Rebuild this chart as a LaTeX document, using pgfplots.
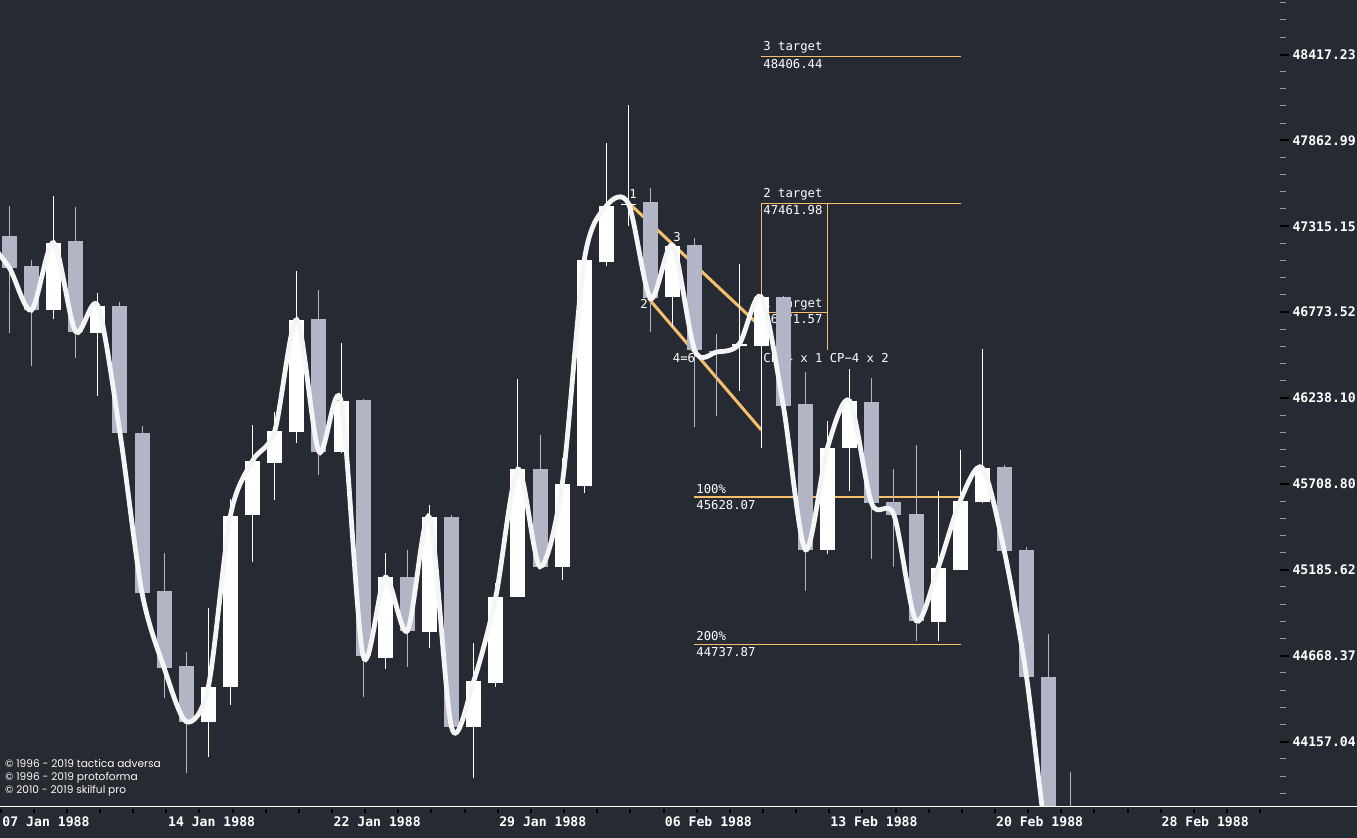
\documentclass[border=0pt]{standalone}
\usepackage{pgfplots}
\pgfplotsset{compat=1.18}
\usepackage{pgfplotstable}
\usepackage{fontspec}
\newfontfamily\monof{DejaVu Sans Mono}
\newfontfamily\copyf{Poppins}
\definecolor{bgc}{RGB}{38,42,51}
\definecolor{downc}{RGB}{178,181,198}
\definecolor{linec}{RGB}{245,245,245}
\definecolor{orc}{RGB}{247,190,108}
\definecolor{minc}{RGB}{150,154,164}
\newcommand\axfont{\monof\bfseries\fontsize{6.57}{8}\selectfont}
\newcommand\annfont{\monof\fontsize{6.13}{7.5}\selectfont}

% x = horizontal position of the candle, o h l c = open high low close
\pgfplotstableread{
x o h l c
-12.8 47150 47300 47100 47229
9.3 47254 47445 46646 47054
31.4 47065 47103 46434 46787
53.5 46787 47508 46733 47212
75.6 47222 47438 46490 46652
97.8 46646 46895 46253 46813
119.9 46813 46836 46017 46025
142.0 46025 46066 45040 45048
164.1 45059 45287 44416 44598
186.2 44608 44689 43972 44276
208.3 44276 44956 44064 44483
230.4 44479 45616 44372 45514
252.6 45516 46072 45236 45851
274.7 45840 46151 45607 46035
296.8 46031 47033 45960 46725
318.9 46729 46914 45766 45908
341.0 45908 46580 45898 46220
363.1 46226 46232 44425 44669
385.2 44657 45290 44590 45139
407.4 45143 45307 44604 44818
429.5 44813 45581 44717 45504
451.6 45504 45520 44233 44241
473.7 44241 44747 43942 44518
495.8 44508 45107 44481 45024
517.9 45024 46357 45022 45799
540.0 45799 46011 45200 45205
562.2 45199 45867 45121 45709
584.3 45698 47120 45652 47103
606.4 47086 47848 47067 47445
628.5 47452 48091 47319 47458
650.6 47470 47559 46652 46861
672.7 46871 47203 46683 47193
694.8 47197 47241 46056 46534
716.9 46531 46638 46130 46525
739.1 46561 47077 46278 46573
761.2 46565 46895 45932 46869
783.3 46869 46875 46189 46191
805.4 46202 46399 45060 45307
827.5 45307 46097 45283 45931
849.6 45932 46419 45668 46220
871.7 46214 46363 45254 45589
893.9 45599 45801 45205 45520
916.0 45526 45949 44759 44880
938.1 44874 45666 44759 45197
960.2 45187 45918 45185 45605
982.3 45601 46544 45595 45807
1004.4 45814 45824 45295 45297
1026.5 45307 45325 44542 44544
1048.7 44542 44800 43400 43521
1070.8 43700 43979 43300 43450
}\candles

\begin{document}
\begin{tikzpicture}
\fill[bgc] (0,-15.75pt) rectangle (678.5pt,403.25pt);
\begin{axis}[
  at={(0,0)}, anchor=south west,
  scale only axis, width=640pt, height=403.25pt,
  xmin=0, xmax=1280,
  % logarithmic price scale (relative to 45000)
  y coord trafo/.code={\begingroup\pgfkeys{/pgf/fpu=true,/pgf/fpu/output format=fixed}\pgfmathparse{ln(#1/45000)}\xdef\ytrafotmp{\pgfmathresult}\endgroup\let\pgfmathresult\ytrafotmp},
  ymin=43775.7, ymax=48772.1,
  axis line style={draw=none},
  xtick=\empty,
  ytick pos=right, yticklabel pos=right,
  ytick={44157.04,44668.37,45185.62,45708.80,46238.10,46773.52,47315.15,47862.99,48417.23},
  yticklabels={44157.04,44668.37,45185.62,45708.80,46238.10,46773.52,47315.15,47862.99,48417.23},
  minor ytick={48529.3,48641.5,48753.6,
    48306.38,48195.53,48084.69,47973.84,
    47753.42,47643.85,47534.29,47424.72,
    47206.82,47098.50,46990.17,46881.85,
    46666.44,46559.35,46452.27,46345.18,
    46132.24,46026.38,45920.52,45814.66,
    45604.16,45499.53,45394.89,45290.26,
    45082.17,44978.72,44875.27,44771.82,
    44566.10,44463.84,44361.57,44259.31,
    44055.9,43954.8,43853.7},
  tick align=outside,
  major tick length=4.65pt, minor tick length=3pt,
  every major tick/.append style={black, line width=1pt},
  every minor tick/.append style={minc, line width=0.5pt},
  yticklabel style={font=\axfont, text=white, anchor=west, inner sep=0pt, xshift=1.4pt},
]
% annotation lines
\addplot[orc, line width=0.6pt] coordinates {(761.3,48406.44) (960.7,48406.44)};
\addplot[orc, line width=0.6pt] coordinates {(761.3,47461.98) (960.7,47461.98)};
\addplot[orc, line width=0.6pt] coordinates {(761.3,46041.5) (761.3,47461.98)};
\addplot[orc, line width=0.6pt] coordinates {(827.3,46538) (827.3,47461.98)};
\addplot[orc, line width=0.6pt] coordinates {(761.3,46771.57) (827.3,46771.57)};
\addplot[orc, line width=0.6pt] coordinates {(694,45628.07) (960.5,45628.07)};
\addplot[orc, line width=0.6pt] coordinates {(694,44737.87) (960.5,44737.87)};
\addplot[orc, line width=1.5pt] coordinates {(630,47455) (757,46704)};
\addplot[orc, line width=1.5pt] coordinates {(648.3,46861) (761.3,46041.5)};
% annotation texts
\begin{scope}[every node/.style={font=\annfont, text=white, inner sep=0pt}]
\node[anchor=south west] at (axis cs:763,48425) {3 target};
\node[anchor=north west] at (axis cs:763,48386) {48406.44};
\node[anchor=south west] at (axis cs:763,47478) {2 target};
\node[anchor=north west] at (axis cs:763,47448) {47461.98};
\node[anchor=south west] at (axis cs:763,46784) {1 target};
\node[anchor=north west] at (axis cs:763,46760) {46771.57};
\node[anchor=south west] at (axis cs:696,45645) {100\%};
\node[anchor=north west] at (axis cs:696,45611) {45628.07};
\node[anchor=south west] at (axis cs:696,44755) {200\%};
\node[anchor=north west] at (axis cs:696,44723) {44737.87};
\node[anchor=north west] at (axis cs:763,46517) {CP−4 x 1 CP−4 x 2};
\node[anchor=north west] at (axis cs:629,47551) {1};
\node[anchor=north west] at (axis cs:640,46855) {2};
\node[anchor=north west] at (axis cs:673,47277) {3};
\node[anchor=north west] at (axis cs:672.5,46517) {4=6};
\end{scope}
% candles: wick (low to high) and body (open to close)
\pgfplotsinvokeforeach{0,...,49}{%
  \pgfplotstablegetelem{#1}{x}\of\candles \let\cx\pgfplotsretval
  \pgfplotstablegetelem{#1}{o}\of\candles \let\co\pgfplotsretval
  \pgfplotstablegetelem{#1}{h}\of\candles \let\ch\pgfplotsretval
  \pgfplotstablegetelem{#1}{l}\of\candles \let\cl\pgfplotsretval
  \pgfplotstablegetelem{#1}{c}\of\candles \let\cc\pgfplotsretval
  \ifnum\cc<\co\relax \def\ccol{downc}\else\def\ccol{white}\fi
  \edef\doit{\noexpand\addplot[\ccol, line width=0.5pt] coordinates {(\cx,\cl) (\cx,\ch)};
    \noexpand\addplot[\ccol, line width=7.5pt] coordinates {(\cx,\co) (\cx,\cc)};}%
  \doit
}
% smoothed close line
\addplot[smooth, linec, line width=2.4pt] table[x=x, y=c] {\candles};
\end{axis}
\draw[white, line width=0.6pt] (0,0) -- (678.5pt,0);
\foreach \k in {0,...,38} \fill[black] ({0.25pt+16.575pt*\k-0.5pt},-1.25pt) rectangle ++(1pt,-2pt);
\foreach \xx/\lab in {23/07 Jan 1988, 105.8/14 Jan 1988, 188.6/22 Jan 1988, 271.4/29 Jan 1988, 354.2/06 Feb 1988, 437/13 Feb 1988, 519.8/20 Feb 1988, 602.6/28 Feb 1988}
  \node[anchor=base, inner sep=0pt, font=\axfont, text=white] at (\xx pt,-10.1pt) {\lab};
\begin{scope}[every node/.style={anchor=base west, inner sep=0pt, font=\copyf\fontsize{5.3}{6}\selectfont, text=white!95!orange}]
\node at (2.35pt,19.6pt) {© 1996 - 2019 tactica adversa};
\node at (2.35pt,13pt) {© 1996 - 2019 protoforma};
\node at (2.35pt,6.5pt) {© 2010 - 2019 skilful pro};
\end{scope}
\pgfresetboundingbox
\path[use as bounding box] (0,-15.75pt) rectangle (678.5pt,403.25pt);
\end{tikzpicture}
\end{document}
